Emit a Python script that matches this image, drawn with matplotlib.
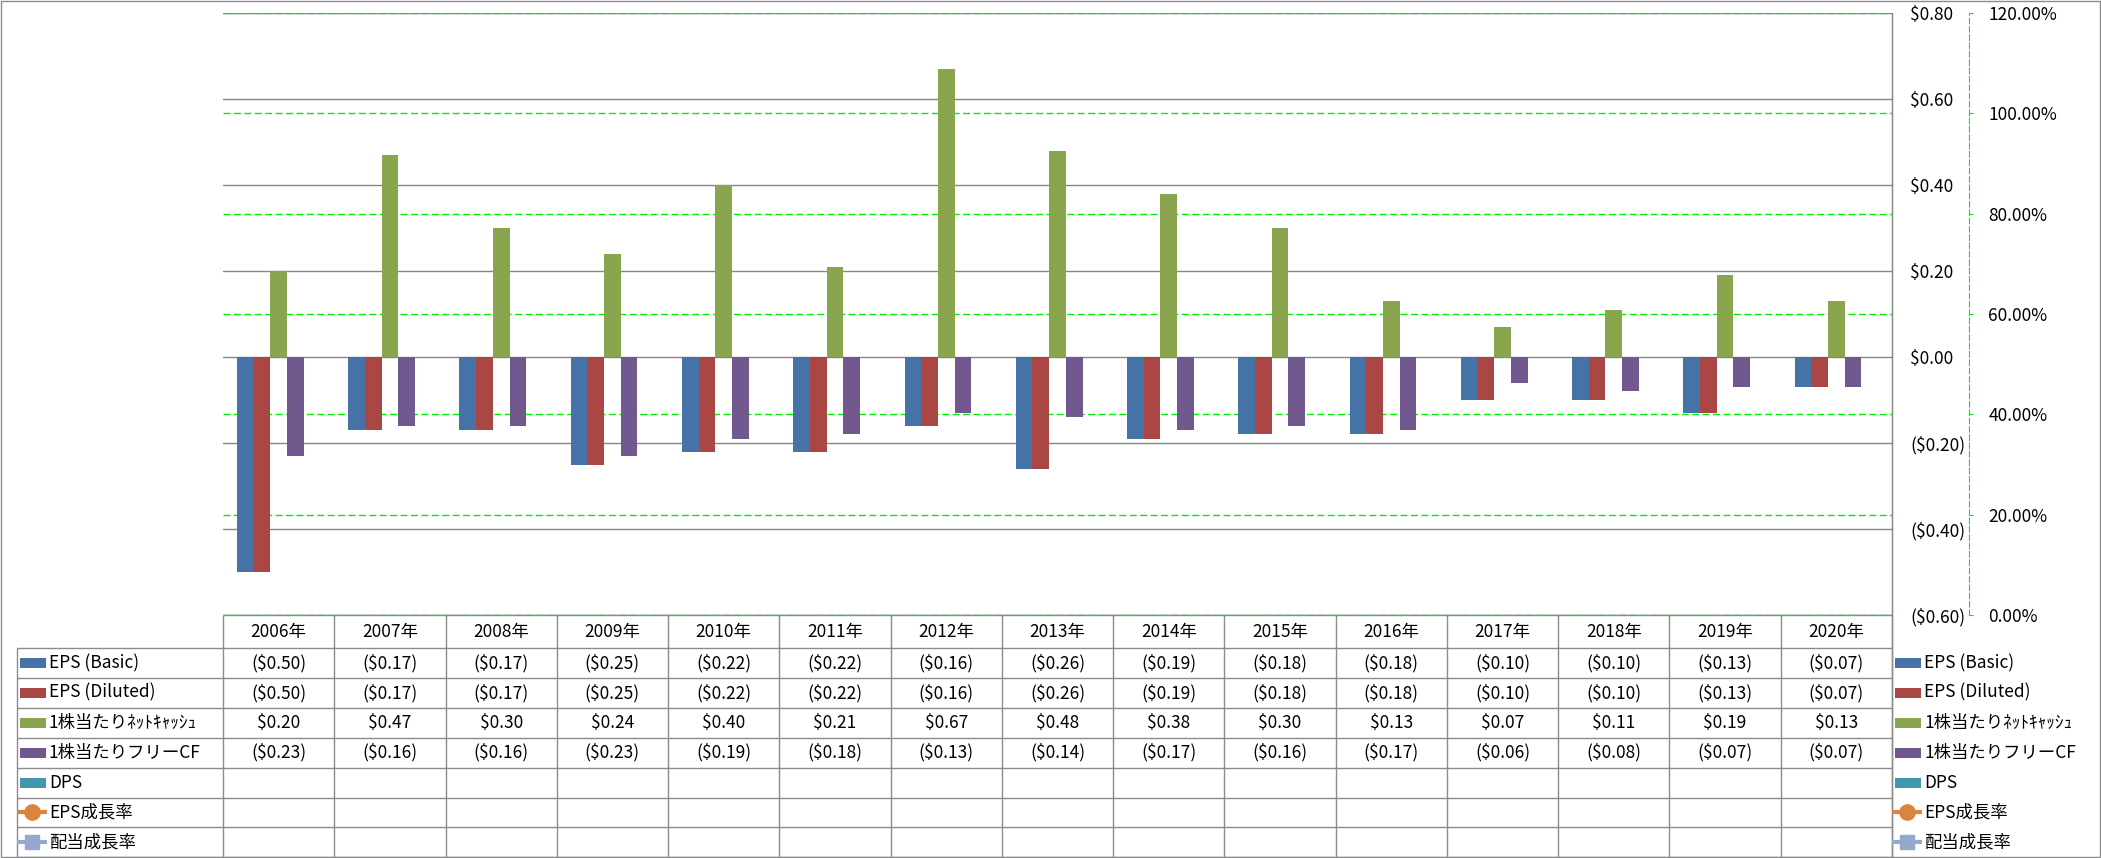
import matplotlib
matplotlib.use('Agg')
import matplotlib.pyplot as plt
from matplotlib.patches import Rectangle
import numpy as np

plt.rcParams['font.family'] = ['Noto Sans CJK JP', 'DejaVu Sans']
plt.rcParams['font.size'] = 12.5

# データ
years = ['2006年', '2007年', '2008年', '2009年', '2010年', '2011年', '2012年', '2013年',
         '2014年', '2015年', '2016年', '2017年', '2018年', '2019年', '2020年']
eps_basic = [-0.50, -0.17, -0.17, -0.25, -0.22, -0.22, -0.16, -0.26, -0.19, -0.18, -0.18, -0.10, -0.10, -0.13, -0.07]
eps_diluted = [-0.50, -0.17, -0.17, -0.25, -0.22, -0.22, -0.16, -0.26, -0.19, -0.18, -0.18, -0.10, -0.10, -0.13, -0.07]
net_cash = [0.20, 0.47, 0.30, 0.24, 0.40, 0.21, 0.67, 0.48, 0.38, 0.30, 0.13, 0.07, 0.11, 0.19, 0.13]
free_cf = [-0.23, -0.16, -0.16, -0.23, -0.19, -0.18, -0.13, -0.14, -0.17, -0.16, -0.17, -0.06, -0.08, -0.07, -0.07]
dps = []          # 値なし
eps_growth = []   # 値なし
div_growth = []   # 値なし

bar_names = ['EPS (Basic)', 'EPS (Diluted)', '1株当たりﾈｯﾄｷｬｯｼｭ', '1株当たりフリーCF', 'DPS']
bar_values = [eps_basic, eps_diluted, net_cash, free_cf, dps]
bar_colors = ['#4572A7', '#AA4643', '#89A54E', '#71588F', '#4198AF']
line_names = ['EPS成長率', '配当成長率']
line_values = [eps_growth, div_growth]
line_colors = ['#DB843D', '#93A9CF']
line_markers = ['o', 's']

money_ticks = [-0.6, -0.4, -0.2, 0.0, 0.2, 0.4, 0.6, 0.8]
pct_ticks = [0.0, 0.2, 0.4, 0.6, 0.8, 1.0, 1.2]

# レイアウト (ピクセル)
W, H = 2101, 858
pl, pr, pt, pb = 223, 1892, 13, 615
tbl_l, tbl_b = 17, 857
head_h, row_h = 33, 29.9
grid_gray = '#868686'
line_gray = '#8c8c8c'
green = '#00EE00'


def money(v):
    if v < -1e-9:
        return '(${:.2f})'.format(-v)
    return '${:.2f}'.format(v)


fig = plt.figure(figsize=(W / 100, H / 100), dpi=100)

# テーブル・凡例用の全面axes (ピクセル座標)
axt = fig.add_axes([0, 0, 1, 1])
axt.set_xlim(0, W)
axt.set_ylim(H, 0)
axt.axis('off')

ax = fig.add_axes([pl / W, 1 - pb / H, (pr - pl) / W, (pb - pt) / H])
ax2 = ax.twinx()
ax.set_zorder(ax2.get_zorder() + 1)
ax.patch.set_visible(False)

# 棒グラフ
x = np.arange(len(years))
bw = 0.15
for i, (vals, c) in enumerate(zip(bar_values, bar_colors)):
    if len(vals) == 0:
        continue
    ax.bar(x + (i - 2) * bw, vals, bw, color=c, zorder=3)

for vals, c, m in zip(line_values, line_colors, line_markers):
    ax2.plot(x[:len(vals)], vals, color=c, marker=m)

ax.set_xlim(-0.5, len(years) - 0.5)
ax.set_ylim(-0.6, 0.8)
ax.set_xticks([])
ax.set_yticks(money_ticks, [money(v) for v in money_ticks])
for lbl, v in zip(ax.get_yticklabels(), money_ticks):
    lbl.set_color('red' if v < 0 else 'black')
ax.yaxis.tick_right()
ax.tick_params(axis='y', length=0, pad=13)
ax.yaxis.grid(True, color=grid_gray, lw=1.0, zorder=0)
ax.set_axisbelow(True)
for s in ['left', 'top', 'bottom']:
    ax.spines[s].set_visible(False)
ax.spines['right'].set_color(grid_gray)

# 第2軸 (%)
ax2.set_ylim(0, 1.2)
ax2.set_yticks(pct_ticks, ['{:.2f}%'.format(v * 100) for v in pct_ticks])
ax2.yaxis.grid(True, color=green, lw=1.0, ls=(0, (5, 2.5)))
for s in ['left', 'top', 'bottom']:
    ax2.spines[s].set_visible(False)
ax2.spines['right'].set_position(('outward', 77 * 0.72))
ax2.spines['right'].set_color(green)
ax2.spines['right'].set_linestyle((0, (5, 2.5)))
ax2.tick_params(axis='y', direction='out', length=3, color=green, pad=11)

# データテーブル
names = bar_names + line_names
values = bar_values + line_values
n_rows = len(names)
col_w = (pr - pl) / len(years)
col_x = pl + col_w * np.arange(len(years) + 1)
row_y = np.concatenate([[pb], pb + head_h + row_h * np.arange(n_rows + 1)])

axt.hlines(row_y[0], pl, pr, color=line_gray, lw=1.0)
axt.hlines(row_y[1:], tbl_l, pr, color=line_gray, lw=1.0)
axt.vlines(col_x, pb, tbl_b, color=line_gray, lw=1.0)
axt.vlines(tbl_l, row_y[1], tbl_b, color=line_gray, lw=1.0)
axt.vlines(pr, pt, tbl_b, color=line_gray, lw=1.0)

for j, yr in enumerate(years):
    axt.text((col_x[j] + col_x[j + 1]) / 2, (row_y[0] + row_y[1]) / 2, yr, ha='center', va='center')
for i, vals in enumerate(values):
    yc = (row_y[i + 1] + row_y[i + 2]) / 2
    for j, v in enumerate(vals):
        axt.text((col_x[j] + col_x[j + 1]) / 2, yc, money(v), ha='center', va='center')

# 凡例キー (テーブル左と右)
for i, nm in enumerate(names):
    yc = (row_y[i + 1] + row_y[i + 2]) / 2
    for kx in (20, 1895):
        if i < len(bar_names):
            axt.add_patch(Rectangle((kx, yc - 5), 26, 10, color=bar_colors[i], lw=0))
        else:
            k = i - len(bar_names)
            axt.plot([kx - 3, kx + 27], [yc, yc], color=line_colors[k], lw=3, solid_capstyle='butt')
            axt.plot([kx + 12], [yc], color=line_colors[k], marker=line_markers[k],
                     markersize=11 if line_markers[k] == 'o' else 10, lw=0)
        axt.text(kx + 29, yc, nm, ha='left', va='center')

# 外枠
axt.add_patch(Rectangle((0.5, 0.5), W - 2, H - 1.5, fill=False, edgecolor=line_gray, lw=1.0))

plt.savefig('out.png', dpi=100)
